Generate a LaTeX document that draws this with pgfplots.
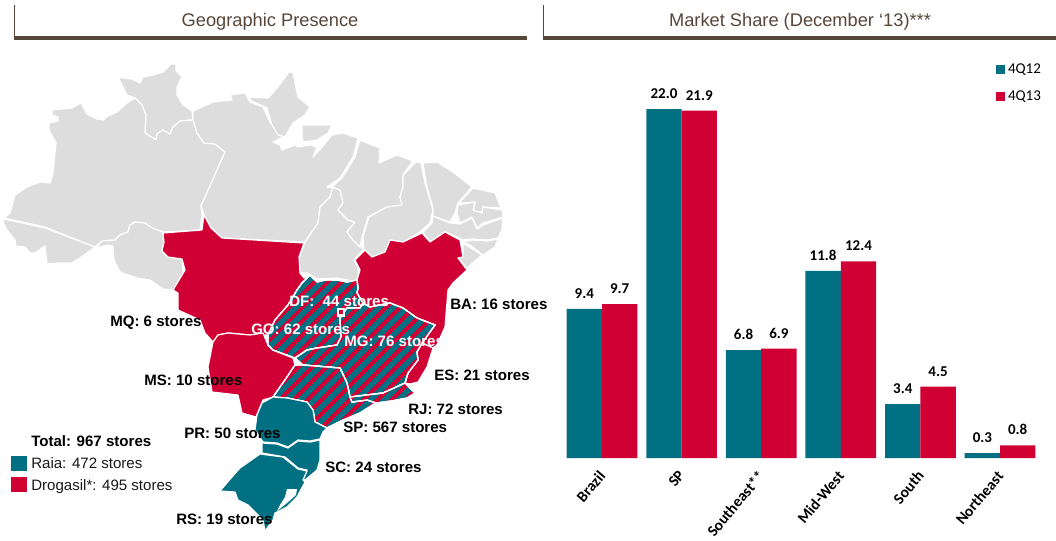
\documentclass[border=0pt]{standalone}
\usepackage{fontspec}
\usepackage{pgfplots}
\pgfplotsset{compat=1.18}
\usetikzlibrary{patterns.meta}
\setmainfont{Liberation Sans}
\newfontfamily\carlito{Carlito}
\definecolor{tl}{RGB}{0,112,130}
\definecolor{rd}{RGB}{209,0,52}
\definecolor{gy}{RGB}{221,221,221}
\definecolor{br}{RGB}{87,70,58}
\newcommand{\lab}{\fontsize{11.3}{13}\selectfont}
\pgfplotsset{
 reg/.style={draw=white,line width=.9pt,line join=round,mark=none,forget plot},
 sgray/.style={reg,fill=gy},
 sred/.style={reg,fill=rd},
 steal/.style={reg,fill=tl},
 shatch/.style={reg,preaction={fill=tl},preaction={pattern={Lines[angle=45,distance=7.4pt,line width=3pt]},pattern color=rd}},
}
\tikzset{
 bl/.style={anchor=base west,inner sep=0pt,font=\lab\bfseries,text=black},
 wl/.style={anchor=base west,inner sep=0pt,font=\lab\bfseries,text=white},
 rg/.style={anchor=base west,inner sep=0pt,font=\lab,text=black!90},
}
\pgfplotstableread{
x a b
0 9.4 9.7
1 22.0 21.9
2 6.8 6.9
3 11.8 12.4
4 3.4 4.5
5 0.3 0.8
}\share
\begin{document}
\begin{tikzpicture}[x=1pt,y=1pt]
\path (0,0) rectangle (792,405);
\begin{axis}[at={(0,0)},anchor=south west,scale only axis,width=792pt,height=405pt,
 xmin=0,xmax=1056,ymin=0,ymax=540,y dir=reverse,hide axis,clip=false]
% headers
\addplot[fill=br,draw=none,forget plot] coordinates {(14,36)(527,36)(527,39.5)(14,39.5)} --cycle;
\addplot[fill=br,draw=none,forget plot] coordinates {(543,36)(1056,36)(1056,39.5)(543,39.5)} --cycle;
\addplot[draw=br,line width=.5pt,mark=none,forget plot] coordinates {(14,5)(14,37)};
\addplot[draw=br,line width=.5pt,mark=none,forget plot] coordinates {(543,5)(543,37)};
% gray states
\addplot[sgray] coordinates {(118,77)(123,78)(132,79)(140,83)(143,77)(153,75)(163,72)(171,64)(176,64)(176,71)(182,77)(177,87)(177,95)(183,105)(192,111)(193,120)(180,121)(173,127)(170,134)(163,130)(157,134)(156,140)(145,133)(146,115)(142,105)(135,98)(127,95)(123,87)} --cycle;
\addplot[sgray] coordinates {(135,98)(127,103)(117,112)(106,117)(104,120)(97,119)(87,114)(81,103)(72,108)(52,110)(52,115)(58,117)(58,121)(49,123)(49,130)(56,143)(53,173)(50,183)(40,182)(27,187)(15,195)(10,213)(4,218)(45,227)(95,247)(102,241)(115,240)(120,235)(128,232)(130,225)(135,222)(145,223)(152,228)(163,232)(200,230)(202,215)(201,206)(225,152)(215,144)(204,143)(197,133)(193,120)(180,121)(173,127)(170,134)(163,130)(157,134)(156,140)(145,133)(146,115)(142,105)} --cycle;
\addplot[sgray] coordinates {(3,222)(7,230)(15,240)(16,246)(25,247)(30,253)(35,253)(45,246)(47,264)(57,263)(72,263)(80,258)(95,247)(45,228)(4,219)} --cycle;
\addplot[sgray] coordinates {(96,248)(102,241)(115,240)(120,235)(128,232)(130,225)(135,222)(145,223)(152,228)(163,232)(164,242)(162,251)(168,257)(182,259)(183,270)(184,277)(175,290)(163,289)(150,280)(137,278)(120,272)(114,260)(113,246)(108,245)} --cycle;
\addplot[sgray] coordinates {(193,111)(213,102)(232,100)(230,95)(245,93)(250,102)(263,107)(270,122)(283,137)(273,142)(280,145)(282,150)(295,145)(298,147)(310,145)(317,147)(313,157)(322,147)(332,135)(343,133)(358,138)(353,157)(340,178)(327,187)(333,188)(330,197)(320,207)(318,223)(305,242)(222,238)(211,228)(204,215)(201,206)(225,152)(215,144)(204,143)(197,133)(193,120)} --cycle;
\addplot[sgray] coordinates {(250,97)(268,98)(278,87)(289,72)(293,73)(298,97)(310,107)(305,115)(293,123)(285,137)(278,135)(272,125)(267,108)(250,100)} --cycle;
\addplot[sgray] coordinates {(302,125)(332,125)(328,133)(317,140)(303,142)(302,133)} --cycle;
\addplot[sgray] coordinates {(333,187)(330,197)(320,207)(318,223)(305,242)(299,258)(300,273)(308,273)(317,279)(337,278)(357,282)(359,270)(354,260)(363,250)(360,243)(353,240)(347,232)(355,222)(348,220)(338,210)(343,203)(340,190)} --cycle;
\addplot[sgray] coordinates {(360,140)(372,145)(380,148)(379,163)(397,155)(413,161)(403,175)(403,187)(400,197)(402,205)(387,207)(368,217)(362,237)(360,247)(353,240)(347,232)(355,222)(348,220)(338,210)(343,203)(340,190)(332,187)(342,178)(355,157)} --cycle;
\addplot[sgray] coordinates {(416,162)(421,163)(425,183)(433,210)(430,223)(420,232)(403,242)(390,240)(385,252)(372,257)(364,250)(363,237)(369,217)(387,207)(402,205)(400,197)(403,187)(403,175)} --cycle;
\addplot[sgray] coordinates {(423,163)(437,162)(453,172)(472,187)(458,203)(455,213)(450,222)(433,216)(433,208)(427,187)} --cycle;
\addplot[sgray] coordinates {(473,188)(495,193)(501,208)(483,207)(482,212)(473,212)(475,202)(463,203)(459,203)} --cycle;
\addplot[sgray] coordinates {(458,205)(475,202)(473,210)(482,213)(483,207)(502,210)(503,217)(483,223)(477,228)(472,217)(460,223)(457,213)} --cycle;
\addplot[sgray] coordinates {(433,216)(450,223)(460,224)(472,218)(477,229)(483,225)(503,218)(502,230)(498,238)(487,240)(473,239)(462,240)(460,238)(445,232)(430,242)(423,232)(432,223)} --cycle;
\addplot[sgray] coordinates {(462,242)(473,240)(487,241)(498,239)(495,247)(483,255)(470,245)} --cycle;
\addplot[sgray] coordinates {(463,243)(482,255)(467,268)(458,258)(463,253)} --cycle;
% red states
\addplot[sred] coordinates {(163,233)(202,230)(204,215)(211,228)(222,238)(304,243)(299,257)(300,273)(304,278)(310,275)(302,283)(297,290)(288,305)(275,320)(268,335)(250,335)(228,333)(218,335)(213,342)(205,333)(200,320)(178,310)(178,293)(173,290)(185,270)(182,259)(168,257)(162,251)(164,242)} --cycle;
\addplot[sred] coordinates {(213,342)(218,335)(228,333)(250,335)(263,333)(268,345)(273,350)(293,358)(295,365)(287,377)(273,397)(263,400)(256,417)(242,413)(238,395)(212,392)(208,367)} --cycle;
\addplot[sred] coordinates {(355,260)(365,250)(372,257)(385,252)(390,240)(403,242)(422,233)(430,242)(445,232)(460,240)(463,257)(458,258)(467,270)(453,283)(448,290)(445,327)(437,345)(433,348)(422,343)(435,325)(417,318)(403,308)(390,303)(370,307)(363,303)(357,293)(358,288)(357,280)(360,270)} --cycle;
\addplot[sred] coordinates {(422,343)(433,348)(427,367)(418,382)(410,384)(405,383)(408,373)(418,360)(417,352)} --cycle;
% hatched states
\addplot[shatch] coordinates {(310,275)(317,282)(325,280)(337,280)(347,282)(357,280)(358,288)(357,293)(363,303)(360,308)(347,308)(340,318)(341,337)(337,345)(317,348)(307,350)(295,358)(273,350)(268,345)(268,335)(275,320)(288,305)(297,290)(302,283)} --cycle;
\addplot[shatch] coordinates {(363,303)(370,307)(390,303)(403,308)(417,318)(435,325)(422,343)(417,352)(418,360)(408,373)(405,383)(383,393)(350,397)(347,383)(340,368)(303,365)(295,358)(307,350)(317,348)(337,345)(341,337)(340,318)(347,308)(360,308)} --cycle;
\addplot[shatch] coordinates {(273,397)(287,377)(295,365)(303,365)(340,368)(347,383)(350,397)(352,402)(367,400)(377,402)(360,413)(343,420)(327,428)(315,422)(313,410)(307,402)(287,398)} --cycle;
\addplot[shatch] coordinates {(383,393)(405,383)(415,393)(407,398)(397,400)(377,403)(373,402)(367,400)(352,402)(350,397)} --cycle;
% teal states
\addplot[steal] coordinates {(273,397)(287,398)(307,402)(313,410)(315,422)(327,428)(323,432)(320,439)(310,441)(298,440)(288,447)(277,443)(263,442)(255,430)(257,415)(262,403)} --cycle;
\addplot[steal] coordinates {(262,443)(277,444)(288,448)(298,441)(310,442)(320,440)(320,460)(317,470)(305,480)(302,479)(307,470)(298,468)(285,457)(262,453)} --cycle;
\addplot[steal] coordinates {(260,454)(283,457)(298,469)(307,471)(303,480)(305,482)(297,497)(287,507)(275,513)(273,520)(265,531)(263,520)(248,505)(238,500)(235,492)(220,491)(232,477)(240,468)} --cycle;
\addplot[fill=white,draw=none,forget plot] coordinates {(287,489)(297,489)(296,495)(287,503)(277,511)(280,505)(285,497)} --cycle;
% DF
\addplot[fill=rd,draw=white,line width=1.6pt,forget plot] coordinates {(338,309)(344,309)(344,315.5)(338,315.5)} --cycle;
% key squares
\addplot[fill=tl,draw=none,forget plot] coordinates {(11,456)(27,456)(27,471)(11,471)} --cycle;
\addplot[fill=rd,draw=none,forget plot] coordinates {(11,477)(27,477)(27,492)(11,492)} --cycle;
% texts
\node[anchor=center,font=\fontsize{13.7}{15}\selectfont,text=br] at (axis cs:270,21.5) {Geographic Presence};
\node[anchor=center,font=\fontsize{13.7}{15}\selectfont,text=br] at (axis cs:800,21.5) {Market Share (December ‘13)***};
\node[wl] at (axis cs:289,306) {DF:\ \ 44 stores};
\node[wl] at (axis cs:251,334) {GO: 62 stores};
\node[wl] at (axis cs:344,346) {MG: 76 stores};
\node[bl] at (axis cs:110,326) {MQ: 6 stores};
\node[bl] at (axis cs:144,385) {MS: 10 stores};
\node[bl] at (axis cs:450,309) {BA: 16 stores};
\node[bl] at (axis cs:434,380) {ES: 21 stores};
\node[bl] at (axis cs:408,414) {RJ: 72 stores};
\node[bl] at (axis cs:343,432) {SP: 567 stores};
\node[bl] at (axis cs:184,438) {PR: 50 stores};
\node[bl] at (axis cs:325,472) {SC: 24 stores};
\node[bl] at (axis cs:176,524) {RS: 19 stores};
\node[bl] at (axis cs:31,446) {Total: 967 stores};
\node[rg] at (axis cs:31,468) {Raia: 472 stores};
\node[rg] at (axis cs:31,490) {Drogasil*: 495 stores};
\end{axis}
\begin{axis}[at={(412.5pt,61.5pt)},anchor=south west,scale only axis,width=375pt,height=297.4pt,
 xmin=-0.6533,xmax=5.628,ymin=0,ymax=25,
 ybar=0pt,bar width=26.5pt,
 axis line style={draw=none},tick style={draw=none},ytick=\empty,
 xtick={0,1,2,3,4,5},xticklabels={Brazil,SP,Southeast**,Mid-West,South,Northeast},
 xticklabel style={font=\carlito\bfseries\fontsize{11.6}{13}\selectfont,xshift=-3.1pt,yshift=-4.1pt,rotate=50,anchor=north east,inner sep=0pt},
 nodes near coords,
 nodes near coords style={font=\carlito\bfseries\fontsize{11.25}{13}\selectfont,anchor=south,inner sep=0pt,yshift=7.5pt,/pgf/number format/.cd,fixed,fixed zerofill,precision=1,assume math mode=true},
 legend style={at={(0.892,1.002)},anchor=north west,draw=none,fill=none,font=\carlito\fontsize{11.25}{13}\selectfont,row sep=7.5pt,inner sep=0pt},
 legend image code/.code={\fill[#1] (0pt,-3.4pt) rectangle (6.8pt,3.4pt);},
 legend cell align=left]
\addplot[fill=tl,draw=none] table[x=x,y=a]{\share};
\addplot[fill=rd,draw=none] table[x=x,y=b]{\share};
\legend{4Q12,4Q13}
\end{axis}
\end{tikzpicture}
\end{document}
